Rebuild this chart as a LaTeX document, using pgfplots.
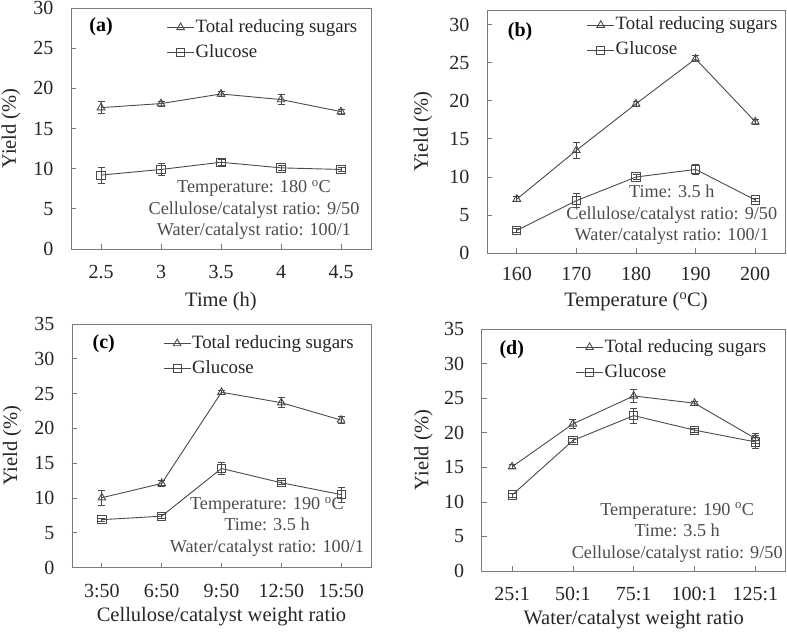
\documentclass[border=0pt]{standalone}
\usepackage{fontspec}
\setmainfont{Liberation Serif}
\usepackage{pgfplots}
\pgfplotsset{compat=1.18}
\definecolor{ln}{HTML}{4A4A4A}
\definecolor{bx}{HTML}{7A7A7A}
\pgfplotsset{
 panel/.style={
  scale only axis,
  anchor=south west,
  axis line style={bx, line width=0.9pt},
  tick align=inside,
  tick pos=left,
  major tick length=5pt,
  tick style={bx, line width=0.8pt},
  /pgf/number format/assume math mode=true,
  tick label style={font=\fontsize{20}{24}\selectfont, text=black!85},
  label style={font=\fontsize{20.5}{24}\selectfont, text=black!85},
  ylabel={Yield (\%)},
  yticklabel style={xshift=-14pt},
  xticklabel style={yshift=-13pt},
  legend style={draw=none, fill=none, anchor=north west, font=\fontsize{18.8}{22}\selectfont, text=black!85,
    row sep=4.5pt, inner sep=0pt, outer sep=0pt, nodes={inner sep=1pt, text height=14pt, text depth=4.5pt}},
  legend cell align=left,
  legend image code/.code={\draw[mark repeat=2,mark phase=2,##1] plot coordinates {(0pt,0pt) (13.5pt,0pt) (27pt,0pt)};},
 },
 trs/.style={color=ln, line width=0.9pt, mark=triangle, mark size=4.4pt, mark options={solid, fill=white, line width=0.9pt},
   error bars/.cd, y dir=both, y explicit, error bar style={line width=0.8pt, ln}, error mark options={rotate=90, mark size=3.5pt, ln, line width=0.8pt}},
 glu/.style={color=ln, line width=0.9pt, mark=square, mark size=4.1pt, mark options={solid, fill=white, line width=0.9pt},
   error bars/.cd, y dir=both, y explicit, error bar style={line width=0.8pt, ln}, error mark options={rotate=90, mark size=3.5pt, ln, line width=0.8pt}},
}
\newcommand{\note}{\fontsize{18.2}{21.5}\selectfont}
\begin{document}
\begin{tikzpicture}
\useasboundingbox (0,0) rectangle (787pt,632pt);
% (a)
\begin{axis}[panel, at={(71pt,383pt)}, width=300pt, height=241pt,
  xmin=2.25, xmax=4.75, ymin=0, ymax=30,
  xtick={2.5,3,3.5,4,4.5}, xticklabels={2.5,3,3.5,4,4.5},
  ytick={0,5,...,30},
  xlabel={Time (h)},
  xlabel style={at={(axis description cs:0.5,-0.219)}, anchor=center},
  ylabel style={at={(axis description cs:-0.2,0.5)}, anchor=center},
  legend style={at={(axis description cs:0.319,0.962)}}]
\addplot[trs] coordinates {(2.5,17.6)+-(0,0.75) (3,18.1)+-(0,0.3) (3.5,19.3)+-(0,0.3) (4,18.6)+-(0,0.65) (4.5,17.1)+-(0,0.3)};
\addlegendentry{Total reducing sugars}
\addplot[glu] coordinates {(2.5,9.2)+-(0,1.0) (3,9.9)+-(0,0.8) (3.5,10.8)+-(0,0.4) (4,10.1)+-(0,0.3) (4.5,9.9)+-(0,0.3)};
\addlegendentry{Glucose}
\node[font=\fontsize{20}{24}\selectfont\bfseries] at (rel axis cs:0.1,0.921) {(a)};
\node[font=\note, align=center, text=black!70] at (rel axis cs:0.61,0.162) {Temperature: 180 \textsuperscript{o}C\\Cellulose/catalyst ratio: 9/50\\Water/catalyst ratio: 100/1};
\end{axis}
% (b)
\begin{axis}[panel, at={(487pt,378.7pt)}, width=298pt, height=243.3pt,
  xmin=155, xmax=205, ymin=0, ymax=31.9,
  xtick={160,170,180,190,200},
  xticklabel style={yshift=3pt},
  ytick={0,5,...,30},
  xlabel={Temperature (\textsuperscript{o}C)},
  xlabel style={at={(axis description cs:0.5,-0.199)}, anchor=center},
  ylabel style={at={(axis description cs:-0.215,0.5)}, anchor=center},
  legend style={at={(axis description cs:0.335,0.98)}}]
\addplot[trs] coordinates {(160,7.1)+-(0,0.3) (170,13.5)+-(0,1.0) (180,19.6)+-(0,0.3) (190,25.5)+-(0,0.4) (200,17.25)+-(0,0.3)};
\addlegendentry{Total reducing sugars}
\addplot[glu] coordinates {(160,3.0)+-(0,0.2) (170,6.9)+-(0,0.9) (180,10.0)+-(0,0.3) (190,11.0)+-(0,0.6) (200,7.0)+-(0,0.2)};
\addlegendentry{Glucose}
\node[font=\fontsize{20}{24}\selectfont\bfseries] at (rel axis cs:0.111,0.911) {(b)};
\node[font=\note, align=center, text=black!70] at (rel axis cs:0.62,0.157) {Time: 3.5 h\\Cellulose/catalyst ratio: 9/50\\Water/catalyst ratio: 100/1};
\end{axis}
% (c)
\begin{axis}[panel, at={(72pt,64.3pt)}, width=299pt, height=243.7pt,
  xmin=-0.5, xmax=4.5, ymin=0, ymax=35,
  xtick={0,1,2,3,4}, xticklabels={3:50,6:50,9:50,12:50,15:50},
  ytick={0,5,...,35},
  xlabel={Cellulose/catalyst weight ratio},
  xlabel style={at={(axis description cs:0.5,-0.201)}, anchor=center},
  ylabel style={at={(axis description cs:-0.2,0.5)}, anchor=center},
  legend style={at={(axis description cs:0.305,0.962)}}]
\addplot[trs] coordinates {(0,10.05)+-(0,1.1) (1,12.1)+-(0,0.4) (2,25.2)+-(0,0.3) (3,23.7)+-(0,0.7) (4,21.2)+-(0,0.5)};
\addlegendentry{Total reducing sugars}
\addplot[glu] coordinates {(0,6.9)+-(0,0.2) (1,7.4)+-(0,0.3) (2,14.25)+-(0,0.9) (3,12.2)+-(0,0.3) (4,10.5)+-(0,1.1)};
\addlegendentry{Glucose}
\node[font=\fontsize{20}{24}\selectfont\bfseries] at (rel axis cs:0.106,0.921) {(c)};
\node[font=\note, align=center, text=black!70] at (rel axis cs:0.652,0.168) {Temperature: 190 \textsuperscript{o}C\\Time: 3.5 h\\Water/catalyst ratio: 100/1};
\end{axis}
% (d)
\begin{axis}[panel, at={(481.7pt,61pt)}, width=304pt, height=241.7pt,
  xmin=-0.5, xmax=4.5, ymin=0, ymax=35,
  xtick={0,1,2,3,4}, xticklabels={25:1,50:1,75:1,100:1,125:1},
  ytick={0,5,...,35},
  xlabel={Water/catalyst weight ratio},
  xlabel style={at={(axis description cs:0.5,-0.203)}, anchor=center},
  ylabel style={at={(axis description cs:-0.192,0.5)}, anchor=center},
  legend style={at={(axis description cs:0.309,0.968)}}]
\addplot[trs] coordinates {(0,15.1)+-(0,0.3) (1,21.3)+-(0,0.7) (2,25.35)+-(0,0.9) (3,24.3)+-(0,0.3) (4,19.2)+-(0,0.7)};
\addlegendentry{Total reducing sugars}
\addplot[glu] coordinates {(0,11.0)+-(0,0.3) (1,18.9)+-(0,0.3) (2,22.5)+-(0,1.1) (3,20.4)+-(0,0.3) (4,18.7)+-(0,0.9)};
\addlegendentry{Glucose}
\node[font=\fontsize{20}{24}\selectfont\bfseries] at (rel axis cs:0.099,0.914) {(d)};
\node[font=\note, align=center, text=black!70] at (rel axis cs:0.643,0.160) {Temperature: 190 \textsuperscript{o}C\\Time: 3.5 h\\Cellulose/catalyst ratio: 9/50};
\end{axis}
\end{tikzpicture}
\end{document}
